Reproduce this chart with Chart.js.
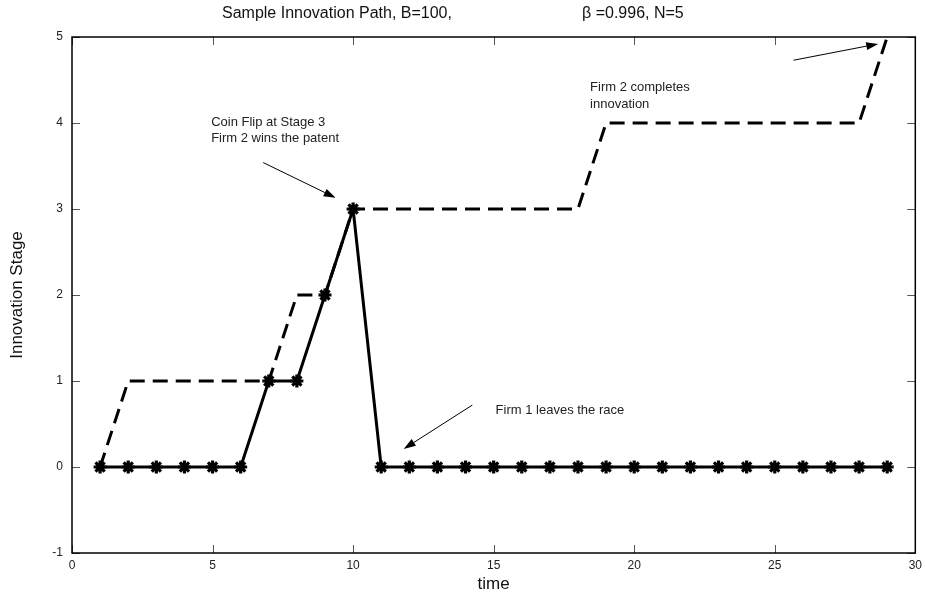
<!DOCTYPE html>
<html>
<head>
<meta charset="utf-8">
<script src="https://cdn.jsdelivr.net/npm/chart.js@4"></script>
<style>
  html, body { margin: 0; padding: 0; background: #fff; }
  #wrap { width: 925px; height: 599px; }
</style>
</head>
<body>
<div id="wrap"><canvas id="c" width="925" height="599"></canvas></div>
<script>
const times = [1, 2, 3, 4, 5, 6, 7, 8, 9, 10, 11, 12, 13, 14, 15, 16, 17, 18, 19, 20, 21, 22, 23, 24, 25, 26, 27, 28, 29];
const firm1Stage = [0, 0, 0, 0, 0, 0, 1, 1, 2, 3, 0, 0, 0, 0, 0, 0, 0, 0, 0, 0, 0, 0, 0, 0, 0, 0, 0, 0, 0];
const firm2Stage = [0, 1, 1, 1, 1, 1, 1, 2, 2, 3, 3, 3, 3, 3, 3, 3, 3, 3, 4, 4, 4, 4, 4, 4, 4, 4, 4, 4, 5];
const xTicks = [0, 5, 10, 15, 20, 25, 30];
const yTicks = [-1, 0, 1, 2, 3, 4, 5];

const titleLeft = 'Sample Innovation Path, B=100,';
const titleRight = '\u03b2 =0.996, N=5';

// notes and arrows, in data units
const notes = [
  { lines: ['Coin Flip at Stage 3', 'Firm 2 wins the patent'], x: 4.95, y: 3.97 },
  { lines: ['Firm 2 completes', 'innovation'], x: 18.43, y: 4.37 },
  { lines: ['Firm 1 leaves the race'], x: 15.07, y: 0.62 },
];
const arrows = [
  { from: [6.80, 3.54], to: [9.38, 3.13] },
  { from: [25.67, 4.73], to: [28.68, 4.92] },
  { from: [14.24, 0.72], to: [11.80, 0.21] },
];

const toPoints = (ys) => times.map((t, i) => ({ x: t, y: ys[i] }));

const frameAndNotes = {
  id: 'frameAndNotes',
  afterDatasetsDraw(chart) {
    const { ctx, chartArea: a, scales: { x, y } } = chart;
    ctx.save();
    // inward ticks on all four sides
    ctx.strokeStyle = '#555';
    ctx.lineWidth = 1;
    ctx.beginPath();
    xTicks.forEach((v) => {
      const px = Math.round(x.getPixelForValue(v)) + 0.5;
      ctx.moveTo(px, a.bottom); ctx.lineTo(px, a.bottom - 8);
      ctx.moveTo(px, a.top); ctx.lineTo(px, a.top + 8);
    });
    yTicks.forEach((v) => {
      const py = Math.round(y.getPixelForValue(v)) + 0.5;
      ctx.moveTo(a.left, py); ctx.lineTo(a.left + 8, py);
      ctx.moveTo(a.right, py); ctx.lineTo(a.right - 8, py);
    });
    ctx.stroke();
    // box
    ctx.strokeStyle = '#000';
    ctx.lineWidth = 1.5;
    ctx.strokeRect(a.left, a.top, a.right - a.left, a.bottom - a.top);

    // notes
    ctx.fillStyle = '#222';
    ctx.font = '13px "Liberation Sans", Arial, sans-serif';
    ctx.textBaseline = 'alphabetic';
    ctx.textAlign = 'left';
    notes.forEach((n) => {
      const px = x.getPixelForValue(n.x);
      const py = y.getPixelForValue(n.y);
      n.lines.forEach((line, i) => ctx.fillText(line, px, py + i * 16.5));
    });

    // arrows
    ctx.strokeStyle = '#000';
    ctx.fillStyle = '#000';
    ctx.lineWidth = 1;
    arrows.forEach((ar) => {
      const x1 = x.getPixelForValue(ar.from[0]);
      const y1 = y.getPixelForValue(ar.from[1]);
      const x2 = x.getPixelForValue(ar.to[0]);
      const y2 = y.getPixelForValue(ar.to[1]);
      const ang = Math.atan2(y2 - y1, x2 - x1);
      const len = 12;
      const half = 4;
      const bx = x2 - len * Math.cos(ang);
      const by = y2 - len * Math.sin(ang);
      ctx.beginPath();
      ctx.moveTo(x1, y1);
      ctx.lineTo(bx, by);
      ctx.stroke();
      ctx.beginPath();
      ctx.moveTo(x2, y2);
      ctx.lineTo(bx + half * Math.sin(ang), by - half * Math.cos(ang));
      ctx.lineTo(bx - half * Math.sin(ang), by + half * Math.cos(ang));
      ctx.closePath();
      ctx.fill();
    });

    // title, two pieces as in the original
    ctx.fillStyle = '#111';
    ctx.font = '16px "Liberation Sans", Arial, sans-serif';
    ctx.textAlign = 'left';
    ctx.textBaseline = 'middle';
    ctx.fillText(titleLeft, 222, 14);
    ctx.fillText(titleRight, 582, 14);
    ctx.restore();
  },
};

new Chart(document.getElementById('c'), {
  type: 'line',
  data: {
    datasets: [
      {
        label: 'Firm 2',
        data: toPoints(firm2Stage),
        borderColor: '#000',
        borderWidth: 3,
        borderDash: [15, 8],
        pointRadius: 0,
        fill: false,
        tension: 0,
      },
      {
        label: 'Firm 1',
        data: toPoints(firm1Stage),
        borderColor: '#000',
        backgroundColor: '#000',
        borderWidth: 3,
        pointStyle: 'star',
        pointRadius: 6.5,
        pointBorderWidth: 3.2,
        pointBorderColor: '#000',
        fill: false,
        tension: 0,
      },
    ],
  },
  options: {
    responsive: false,
    animation: false,
    layout: { padding: { left: 0, right: -4, top: 37, bottom: 0 } },
    plugins: {
      legend: { display: false },
      tooltip: { enabled: false },
    },
    scales: {
      x: {
        type: 'linear',
        min: 0,
        max: 30,
        afterFit: (s) => { s.height = 46; s.paddingLeft = 0; s.paddingRight = 0; },
        afterBuildTicks: (s) => { s.ticks = xTicks.map((v) => ({ value: v })); },
        grid: { display: false, drawTicks: false },
        border: { display: false },
        ticks: {
          color: '#222',
          padding: 5,
          font: { family: '"Liberation Sans", Arial, sans-serif', size: 12 },
        },
        title: {
          display: true,
          text: 'time',
          color: '#111',
          padding: { top: 0, bottom: 4 },
          font: { family: '"Liberation Sans", Arial, sans-serif', size: 17 },
        },
      },
      y: {
        min: -1,
        max: 5,
        afterFit: (s) => { s.width = 72; },
        afterBuildTicks: (s) => { s.ticks = yTicks.map((v) => ({ value: v })); },
        grid: { display: false, drawTicks: false },
        border: { display: false },
        ticks: {
          color: '#222',
          padding: 9,
          font: { family: '"Liberation Sans", Arial, sans-serif', size: 12 },
        },
        title: {
          display: true,
          text: 'Innovation Stage',
          color: '#111',
          padding: { top: 7, bottom: 0 },
          font: { family: '"Liberation Sans", Arial, sans-serif', size: 17 },
        },
      },
    },
  },
  plugins: [frameAndNotes],
});
</script>
</body>
</html>
